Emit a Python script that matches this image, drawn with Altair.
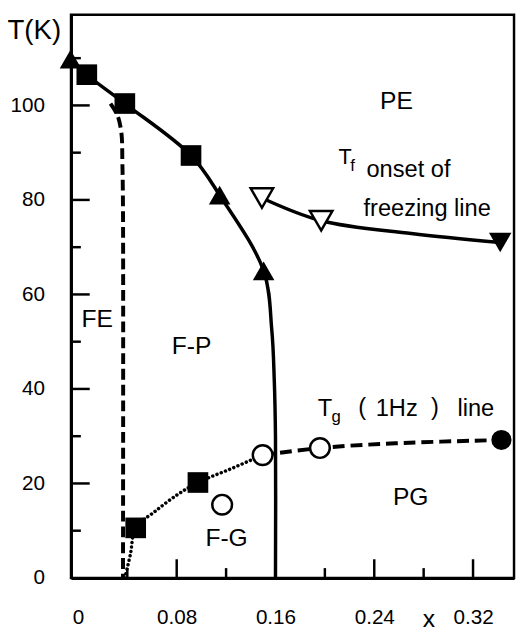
import altair as alt
import pandas as pd

FONT = "Liberation Sans"

# ---------------- data ----------------
# F-P / PE boundary (solid line)
fp_x = [-0.006, 0.0072, 0.038, 0.0916, 0.1148, 0.1504, 0.157, 0.159, 0.160, 0.160]
fp_T = [109.8, 106.5, 100.4, 89.4, 81.0, 65.0, 52.5, 42.0, 30.0, 0.0]
# FE boundary (dashed line)
fe_x = [0.0264, 0.032, 0.0352, 0.036, 0.0365, 0.0365]
fe_T = [100.4, 97.9, 94.2, 87.9, 78.0, 0.0]
# F-G boundary (dotted line)
fg_x = [0.038, 0.0425, 0.0468, 0.062, 0.081, 0.0972, 0.123, 0.1496]
fg_T = [0.0, 5.0, 10.6, 14.0, 17.7, 20.2, 23.0, 26.0]
# Tg (1Hz) line (dashed)
tg_x = [0.1496, 0.196, 0.257, 0.343]
tg_T = [26.0, 27.5, 28.5, 29.2]
# Tf onset of freezing line (solid)
tf_x = [0.149, 0.197, 0.270, 0.342]
tf_T = [80.4, 75.6, 72.9, 71.0]

# markers
sq_x = [0.0072, 0.038, 0.0916, 0.0468, 0.0972]
sq_T = [106.5, 100.4, 89.4, 10.6, 20.2]
tri_x = [-0.006, 0.1148, 0.1504]
tri_T = [109.8, 81.0, 65.0]
ocirc_x = [0.1496, 0.196, 0.1168]
ocirc_T = [26.0, 27.5, 15.5]
fcirc_x = [0.343]
fcirc_T = [29.2]
otri_x = [0.149, 0.197]
otri_T = [80.4, 75.6]
ftri_x = [0.342]
ftri_T = [71.0]

# region labels
reg_text = ["PE", "FE", "F-P", "F-G", "PG"]
reg_x = [0.258, 0.0156, 0.0921, 0.1204, 0.2695]
reg_T = [99.2, 53.1, 47.5, 6.7, 15.4]

# Tf / Tg annotation pieces
ann_big_text = ["onset of", "freezing line", "T", "(", "1Hz", ")", "line"]
ann_big_x = [0.2337, 0.2313, 0.1942, 0.2270, 0.2412, 0.2859, 0.3074]
ann_big_T = [84.8, 76.5, 34.2, 34.4, 34.2, 34.4, 34.2]
ann_t_text = ["T"]
ann_t_x = [0.2110]
ann_t_T = [87.5]
ann_sub_text = ["f", "g"]
ann_sub_x = [0.2205, 0.2053]
ann_sub_T = [86.2, 33.0]

# axis ticks
x_labels = [0, 0.08, 0.16, 0.24, 0.32]
x_major = [0.08, 0.16, 0.24, 0.32]
x_minor = [0.04, 0.12, 0.20, 0.28]
y_labels = [0, 20, 40, 60, 80, 100]
y_major = [20, 40, 60, 80, 100]
y_minor = [10, 30, 50, 70, 90, 110]

W, H = 450, 572
xs = alt.Scale(domain=[-0.0056, 0.3532], nice=False, zero=False)
ys = alt.Scale(domain=[0, 119.17], nice=False, zero=False)

AX = alt.Axis(values=x_labels, format=".2~f", ticks=False, grid=False,
              domainColor="black", domainWidth=3,
              labelFont=FONT, labelFontSize=21, labelColor="black",
              labelPadding=29, labelFlush=False,
              title="x", titleFont=FONT, titleFontSize=25,
              titleFontWeight="normal", titleColor="black",
              titleX=363, titleY=49, titleAlign="center",
              titleBaseline="alphabetic")
AY = alt.Axis(values=y_labels, ticks=False, grid=False,
              domainColor="black", domainWidth=3,
              labelFont=FONT, labelFontSize=21, labelColor="black",
              labelPadding=27, labelFlush=False,
              title="T(K)", titleFont=FONT, titleFontSize=28,
              titleFontWeight="normal", titleColor="black",
              titleAngle=0, titleX=-65, titleY=24, titleAlign="left",
              titleBaseline="alphabetic")

X = alt.X("x:Q", scale=xs, axis=AX)
Y = alt.Y("T:Q", scale=ys, axis=AY)


def curve(xv, tv):
    return pd.DataFrame({"x": xv, "T": tv, "i": list(range(len(xv)))})


def pts(xv, tv):
    return pd.DataFrame({"x": xv, "T": tv})


# inward ticks
xmaj = alt.Chart(pd.DataFrame({"x": x_major})).mark_rule(color="black", strokeWidth=2.5).encode(
    x=X, y=alt.value(H), y2=alt.value(H - 19))
xmin = alt.Chart(pd.DataFrame({"x": x_minor})).mark_rule(color="black", strokeWidth=2.5).encode(
    x=X, y=alt.value(H), y2=alt.value(H - 10))
ymaj = alt.Chart(pd.DataFrame({"T": y_major})).mark_rule(color="black", strokeWidth=2.5).encode(
    y=Y, x=alt.value(0), x2=alt.value(19))
ymin = alt.Chart(pd.DataFrame({"T": y_minor})).mark_rule(color="black", strokeWidth=2.5).encode(
    y=Y, x=alt.value(0), x2=alt.value(10))


def line(df, dash=None, cap="butt", width=3.5):
    kw = dict(color="black", strokeWidth=width, interpolate="catmull-rom", strokeCap=cap)
    if dash:
        kw["strokeDash"] = dash
    return alt.Chart(df).mark_line(**kw).encode(x=X, y=Y, order="i:Q")


l_fp = line(curve(fp_x, fp_T))
l_fe = line(curve(fe_x, fe_T), dash=[11, 5], width=4)
l_fg = line(curve(fg_x, fg_T), dash=[0.1, 4.5], cap="round", width=3.5)
l_tg = line(curve(tg_x, tg_T), dash=[12, 6], width=4)
l_tf = line(curve(tf_x, tf_T))


def marks(xv, tv, shape, size, filled):
    return alt.Chart(pts(xv, tv)).mark_point(
        shape=shape, size=size, filled=True,
        fill="black" if filled else "white", stroke="black",
        strokeWidth=0 if filled else 2.5, opacity=1, fillOpacity=1,
    ).encode(x=X, y=Y)


m_sq = marks(sq_x, sq_T, "square", 440, True)
m_tri = marks(tri_x, tri_T, "triangle-up", 480, True)
m_oc = marks(ocirc_x, ocirc_T, "circle", 400, False)
m_fc = marks(fcirc_x, fcirc_T, "circle", 420, True)
m_otri = marks(otri_x, otri_T, "triangle-down", 520, False)
m_ftri = marks(ftri_x, ftri_T, "triangle-down", 520, True)


def texts(xv, tv, tt, size, align):
    return alt.Chart(pd.DataFrame({"x": xv, "T": tv, "t": tt})).mark_text(
        font=FONT, fontSize=size, color="black", align=align, baseline="alphabetic"
    ).encode(x=X, y=Y, text="t:N")


t_reg = texts(reg_x, reg_T, reg_text, 25, "center")
t_big = texts(ann_big_x, ann_big_T, ann_big_text, 24, "left")
t_t = texts(ann_t_x, ann_t_T, ann_t_text, 22, "left")
t_sub = texts(ann_sub_x, ann_sub_T, ann_sub_text, 17, "left")

chart = alt.layer(
    xmaj, xmin, ymaj, ymin,
    l_fp, l_fe, l_fg, l_tg, l_tf,
    m_sq, m_tri, m_oc, m_fc, m_otri, m_ftri,
    t_reg, t_big, t_t, t_sub,
).properties(
    width=W, height=H,
    autosize=alt.AutoSizeParams(type="none"),
    padding={"left": 64, "top": 2, "right": 2, "bottom": 53},
    background="white",
).configure_view(stroke="black", strokeWidth=2.5)

chart.save("out.html", embed_options={"renderer": "svg", "actions": False})
